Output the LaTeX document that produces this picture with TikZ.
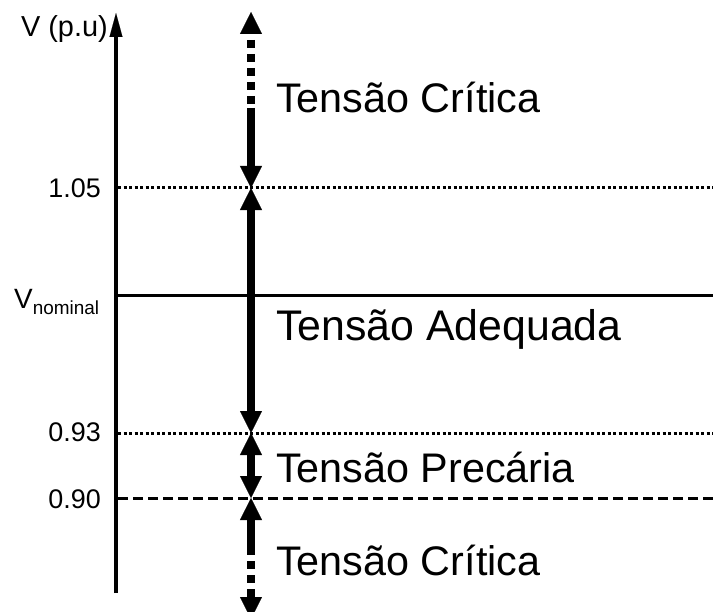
\documentclass[tikz,border=0pt]{standalone}
\usepackage{fontspec}
\setmainfont{Liberation Sans}
\usetikzlibrary{arrows.meta}
\tikzset{
  tri/.tip={Triangle[width=22bp,length=22bp,line width=0.1bp]},
  smalltri/.tip={Triangle[width=13bp,length=24bp,line width=0.1bp]},
  shaft/.style={line width=8bp,line cap=butt},
  dotshaft/.style={shaft,dash pattern=on 8bp off 6bp,dash phase=8bp},
  axisline/.style={line width=4bp,-smalltri},
  refsolid/.style={line width=3bp},
  refdotted/.style={line width=3bp,dash pattern=on 3bp off 2.5bp},
  refdashed/.style={line width=3bp,dash pattern=on 10bp off 5bp},
  smalllab/.style={inner sep=0pt,font=\fontsize{27}{27}\selectfont},
  biglab/.style={inner sep=0pt,anchor=base west,font=\fontsize{41.5}{42}\selectfont},
}
\begin{document}
\begin{tikzpicture}[x=1bp,y=-1bp]
\useasboundingbox (0,0) rectangle (713,612);
% axis
\coordinate (axB) at (116,593);
\coordinate (axT) at (116,13);
\draw[axisline] (axB) -- (axT);
% reference lines
\coordinate (l105a) at (118,188);
\coordinate (l105b) at (713,188);
\coordinate (lnoma) at (118,295);
\coordinate (lnomb) at (713,295);
\coordinate (l093a) at (118,433);
\coordinate (l093b) at (713,433);
\coordinate (l090a) at (118,498);
\coordinate (l090b) at (713,498);
\draw[refdotted] (l105a) -- (l105b);
\draw[refsolid] (lnoma) -- (lnomb);
\draw[refdotted] (l093a) -- (l093b);
\draw[refdashed] (l090a) -- (l090b);
% axis labels
\node[smalllab,anchor=base east,font=\fontsize{29}{29}\selectfont] (vpu) at (108,37) {V (p.u)};
\node[smalllab,anchor=base east] (lab105) at (101,198) {1.05};
\node[smalllab,anchor=base east] (lab093) at (101,441) {0.93};
\node[smalllab,anchor=base east] (lab090) at (101,508) {0.90};
\node[smalllab,anchor=base west,font=\fontsize{28}{28}\selectfont] (labnom) at (14,308) {V\raisebox{-6bp}{\fontsize{19}{19}\selectfont nominal}};
% range arrows
\coordinate (tTop) at (251,12);
\coordinate (tDot) at (251,108);
\coordinate (t105) at (251,188);
\coordinate (t093) at (251,433);
\coordinate (t090) at (251,498);
\coordinate (bSol) at (251,555);
\coordinate (bTip) at (251,619);
\draw[dotshaft,tri-] (tTop) -- (tDot);
\draw[shaft,-tri] (tDot) -- (t105);
\draw[shaft,tri-tri] (t105) -- (t093);
\draw[shaft,tri-tri] (t093) -- (t090);
\draw[shaft,tri-] (t090) -- (bSol);
\draw[dotshaft,-tri] (bSol) -- (bTip);
% range labels
\node[biglab] (crit1) at (276,113) {Tensão Crítica};
\node[biglab,font=\fontsize{43}{44}\selectfont] (adeq) at (276,340) {Tensão Adequada};
\node[biglab] (prec) at (276,482) {Tensão Precária};
\node[biglab] (crit2) at (276,575) {Tensão Crítica};
\end{tikzpicture}
\end{document}
